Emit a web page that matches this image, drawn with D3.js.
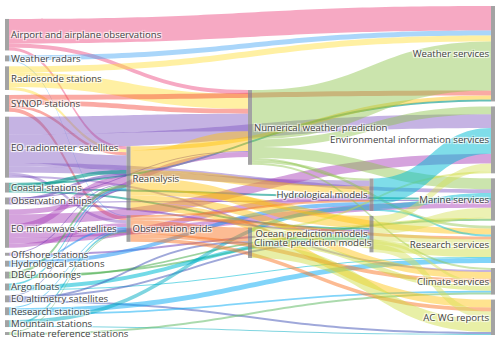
<!DOCTYPE html>
<html><head><meta charset="utf-8">
<script src="https://cdn.jsdelivr.net/npm/d3@7"></script>
<style>
body{margin:0;background:#fff}
svg{display:block}
.lbl{font-family:"Open Sans",sans-serif;font-size:9.6px;fill:#444;text-shadow:1px 1px 1px #fff,-1px -1px 1px #fff,1px -1px 1px #fff,-1px 1px 1px #fff}
</style>
</head><body>
<svg id="c" width="500" height="341"></svg>
<script>
// ---------------- DATA ----------------
const nodeNames = [
  "Airport and airplane observations","Weather radars","Radiosonde stations","SYNOP stations",
  "EO radiometer satellites","Coastal stations","Observation ships","EO microwave satellites",
  "Offshore stations","Hydrological stations","DBCP moorings","Argo floats",
  "EO altimetry satellites","Research stations","Mountain stations","Climate reference stations",
  "Reanalysis","Observation grids",
  "Numerical weather prediction","Climate prediction models",
  "Hydrological models","Ocean prediction models",
  "Weather services","Environmental information services","Marine services",
  "Research services","Climate services","AC WG reports"
];
const nodeLayers = [0,0,0,0,0,0,0,0,0,0,0,0,0,0,0,0, 1,1, 2,2, 3,3, 4,4,4,4,4,4];

const linkSources = [
  "Airport and airplane observations","Airport and airplane observations","Airport and airplane observations",
  "Weather radars","Weather radars",
  "Radiosonde stations","Radiosonde stations","Radiosonde stations",
  "SYNOP stations","SYNOP stations","SYNOP stations","SYNOP stations",
  "EO radiometer satellites","EO radiometer satellites","EO radiometer satellites","EO radiometer satellites","EO radiometer satellites","EO radiometer satellites","EO radiometer satellites",
  "Coastal stations","Coastal stations","Coastal stations","Coastal stations",
  "Observation ships","Observation ships","Observation ships","Observation ships",
  "EO microwave satellites","EO microwave satellites","EO microwave satellites","EO microwave satellites","EO microwave satellites","EO microwave satellites",
  "Offshore stations","Offshore stations",
  "Hydrological stations","Hydrological stations",
  "DBCP moorings","DBCP moorings","DBCP moorings",
  "Argo floats","Argo floats","Argo floats",
  "EO altimetry satellites","EO altimetry satellites","EO altimetry satellites","EO altimetry satellites",
  "Research stations","Research stations","Research stations",
  "Mountain stations","Mountain stations","Mountain stations",
  "Climate reference stations","Climate reference stations",
  "Reanalysis","Reanalysis","Reanalysis","Reanalysis","Reanalysis","Reanalysis","Reanalysis",
  "Observation grids","Observation grids","Observation grids","Observation grids","Observation grids",
  "Numerical weather prediction","Numerical weather prediction","Numerical weather prediction","Numerical weather prediction","Numerical weather prediction","Numerical weather prediction",
  "Climate prediction models","Climate prediction models","Climate prediction models","Climate prediction models","Climate prediction models",
  "Hydrological models","Hydrological models","Hydrological models",
  "Ocean prediction models","Ocean prediction models","Ocean prediction models","Ocean prediction models","Ocean prediction models"
];
const linkTargets = [
  "Weather services","Numerical weather prediction","Reanalysis",
  "Weather services","Observation grids",
  "Weather services","Numerical weather prediction","Reanalysis",
  "Weather services","Numerical weather prediction","Reanalysis","Observation grids",
  "Numerical weather prediction","Environmental information services","Reanalysis","Hydrological models","Marine services","Climate services","Observation grids",
  "Weather services","Reanalysis","Marine services","Ocean prediction models",
  "Numerical weather prediction","Reanalysis","Marine services","Ocean prediction models",
  "Numerical weather prediction","Reanalysis","Environmental information services","Marine services","Hydrological models","Observation grids",
  "Reanalysis","Ocean prediction models",
  "Hydrological models","Observation grids",
  "Reanalysis","Ocean prediction models","Marine services",
  "Reanalysis","Ocean prediction models","Research services",
  "Ocean prediction models","Reanalysis","AC WG reports","Climate prediction models",
  "Research services","Observation grids","Climate services",
  "Observation grids","Hydrological models","AC WG reports",
  "Observation grids","Climate services",
  "Numerical weather prediction","Hydrological models","Ocean prediction models","Weather services","Research services","Climate services","AC WG reports",
  "Hydrological models","Climate prediction models","Research services","Climate services","AC WG reports",
  "Weather services","Environmental information services","Marine services","Hydrological models","Research services","Climate services",
  "Environmental information services","Marine services","Research services","Climate services","AC WG reports",
  "Environmental information services","Marine services","Research services",
  "Marine services","Environmental information services","Research services","Climate services","AC WG reports"
];
const linkValues = [
  25,4,3,
  5,1,
  6,15,3,
  5,5,3,4,
  18,14,15,6,4,2,3,
  2,4,2,2,
  1,3,1,2,
  5,7,10,7,6,4,
  1,2,
  4,2,
  3,2,2,
  2,4,1,
  2,1,2,2,
  5,1,2,
  2,4,1,
  1,2,
  20,8,12,4,6,7,8,
  2,14,3,4,4,
  50,8,11,2,3,2,
  2,1,10,5,13,
  26,5,2,
  10,8,8,3,8
];

// link colour by source node (palette, same order as nodeNames)
const sourcePalette = [
  "rgba(236,64,122,0.45)","rgba(66,165,245,0.45)","rgba(255,221,51,0.45)","rgba(244,67,54,0.45)",
  "rgba(126,87,194,0.45)","rgba(0,150,136,0.6)","rgba(94,53,177,0.5)","rgba(171,71,188,0.5)",
  "rgba(103,58,183,0.5)","rgba(33,150,243,0.55)","rgba(76,175,80,0.55)","rgba(0,188,212,0.55)",
  "rgba(63,81,181,0.5)","rgba(3,169,244,0.5)","rgba(0,172,193,0.5)","rgba(102,187,106,0.55)",
  "rgba(255,193,7,0.45)","rgba(250,120,40,0.5)",
  "rgba(139,195,74,0.45)","rgba(205,220,57,0.45)",
  "rgba(0,188,212,0.5)","rgba(212,225,87,0.45)",
  "#999","#999","#999","#999","#999","#999"
];

// ---------------- LAYOUT ----------------
const W = 500, H = 341;
const X0 = 5, X1 = 495, Y0 = 6, Y1 = 335, NW = 4, PAD = 5, ITER = 50;

const nodes = nodeNames.map((name, i) => ({name, index: i, layer: nodeLayers[i], sourceLinks: [], targetLinks: []}));
const byName = new Map(nodes.map(n => [n.name, n]));
const links = linkSources.map((s, i) => ({source: byName.get(s), target: byName.get(linkTargets[i]), value: linkValues[i], index: i}));
links.forEach(l => { l.source.sourceLinks.push(l); l.target.targetLinks.push(l); });
nodes.forEach(n => n.value = Math.max(d3.sum(n.sourceLinks, l => l.value), d3.sum(n.targetLinks, l => l.value)));

const nLayers = d3.max(nodes, n => n.layer) + 1;
const x = d3.scaleLinear().domain([0, nLayers - 1]).range([X0, X1 - NW]);
nodes.forEach(n => { n.x0 = x(n.layer); n.x1 = n.x0 + NW; });
const columns = d3.range(nLayers).map(k => nodes.filter(n => n.layer === k));

const kyVal = d3.min(columns, c => (Y1 - Y0 - (c.length - 1) * PAD) / d3.sum(c, n => n.value));
const size = d3.scaleLinear().domain([0, 1]).range([0, kyVal]);

const center = n => (n.y0 + n.y1) / 2;
columns.forEach(c => c.forEach((n, i) => { n.y0 = i; n.y1 = i + size(n.value); }));
links.forEach(l => l.width = size(l.value));

function resolve() {
  columns.forEach(c => {
    let y = Y0, node, dy;
    for (let i = 0; i < c.length; i++) {
      node = c[i]; dy = y - node.y0;
      if (dy > 0) { node.y0 += dy; node.y1 += dy; }
      y = node.y1 + PAD;
    }
    dy = y - PAD - Y1;
    if (dy > 0) {
      node.y0 -= dy; node.y1 -= dy; y = node.y0;
      for (let i = c.length - 2; i >= 0; i--) {
        node = c[i]; dy = node.y1 + PAD - y;
        if (dy > 0) { node.y0 -= dy; node.y1 -= dy; }
        y = node.y0;
      }
    }
  });
}
resolve();
let alpha = 1;
for (let it = 0; it < ITER; it++) {
  alpha *= 0.99;
  columns.slice().reverse().forEach(c => c.forEach(n => {
    if (n.sourceLinks.length) {
      const dy = (d3.sum(n.sourceLinks, l => center(l.target) * l.value) / d3.sum(n.sourceLinks, l => l.value) - center(n)) * alpha;
      n.y0 += dy; n.y1 += dy;
    }
  }));
  resolve();
  columns.forEach(c => c.forEach(n => {
    if (n.targetLinks.length) {
      const dy = (d3.sum(n.targetLinks, l => center(l.source) * l.value) / d3.sum(n.targetLinks, l => l.value) - center(n)) * alpha;
      n.y0 += dy; n.y1 += dy;
    }
  }));
  resolve();
}
nodes.forEach(n => {
  n.sourceLinks.sort((a, b) => (a.target.y0 - b.target.y0) || (a.index - b.index));
  n.targetLinks.sort((a, b) => (a.source.y0 - b.source.y0) || (a.index - b.index));
});
nodes.forEach(n => {
  let y = n.y0;
  n.sourceLinks.forEach(l => { l.y0 = y + l.width / 2; y += l.width; });
  y = n.y0;
  n.targetLinks.forEach(l => { l.y1 = y + l.width / 2; y += l.width; });
});

// ---------------- DRAW ----------------
const svg = d3.select("#c");
function linkPath(l) {
  const xa = l.source.x1, xb = l.target.x0;
  const xm = d3.interpolateNumber(xa, xb)(0.5);
  const h = l.width / 2;
  return `M${xa},${l.y0 - h}C${xm},${l.y0 - h} ${xm},${l.y1 - h} ${xb},${l.y1 - h}` +
         `L${xb},${l.y1 + h}C${xm},${l.y1 + h} ${xm},${l.y0 + h} ${xa},${l.y0 + h}Z`;
}
svg.append("g").selectAll("path").data(links).join("path")
  .attr("d", linkPath)
  .attr("fill", l => sourcePalette[l.source.index]);

svg.append("g").selectAll("rect").data(nodes).join("rect")
  .attr("x", n => n.x0).attr("y", n => n.y0)
  .attr("width", NW).attr("height", n => Math.max(1, n.y1 - n.y0))
  .attr("fill", "rgba(128,128,128,0.72)");

svg.append("g").selectAll("text").data(nodes).join("text")
  .attr("class", "lbl")
  .attr("x", n => n.x0 < W / 2 ? n.x1 + 2 : n.x0 - 2)
  .attr("y", n => center(n))
  .attr("dy", "0.35em")
  .attr("text-anchor", n => n.x0 < W / 2 ? "start" : "end")
  .text(n => n.name);
</script>
</body></html>
